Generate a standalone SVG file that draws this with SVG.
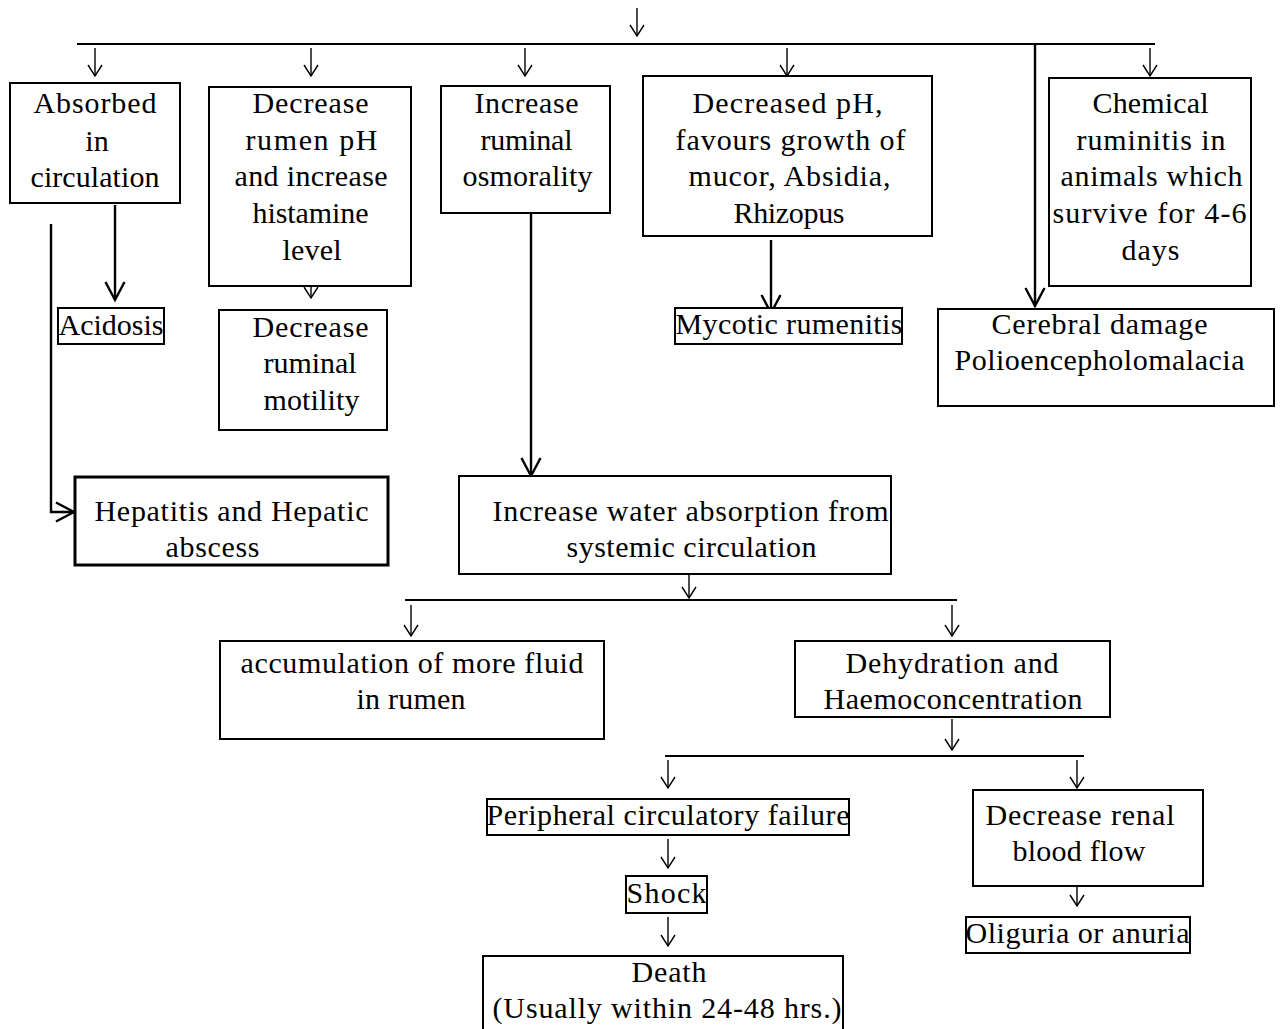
<svg xmlns="http://www.w3.org/2000/svg" width="1281" height="1029" viewBox="0 0 1281 1029">
  <defs>
    <style>
      .box { fill: #fff; stroke: #000; stroke-width: 2; }
      .thick { stroke-width: 3; }
      text { font-family: "Liberation Serif", "Times New Roman", serif; font-size: 30px; fill: #000; text-anchor: middle; }
      .ln { stroke: #000; stroke-width: 2; fill: none; }
      .sm { stroke: #000; stroke-width: 1.4; fill: none; marker-end: url(#tip-sm); }
      .lg { stroke: #000; stroke-width: 2.4; fill: none; marker-end: url(#tip-lg); }
    </style>
    <marker id="tip-sm" markerUnits="userSpaceOnUse" orient="auto" markerWidth="16" markerHeight="18" viewBox="-13 -9 16 18" refX="0" refY="0">
      <path d="M-11,-7 L0,0 L-11,7" fill="none" stroke="#000" stroke-width="1.4"/>
    </marker>
    <marker id="tip-lg" markerUnits="userSpaceOnUse" orient="auto" markerWidth="24" markerHeight="24" viewBox="-20 -12 24 24" refX="0" refY="0">
      <path d="M-18,-9.5 L0,0 L-18,9.5" fill="none" stroke="#000" stroke-width="2.4"/>
    </marker>
  </defs>
  <rect width="1281" height="1029" fill="#fff"/>

  <!-- connectors -->
  <g id="connectors">
    <line class="sm" x1="637" y1="8" x2="637" y2="36"/>
    <line class="ln" x1="77" y1="44" x2="1155" y2="44"/>
    <line class="sm" x1="95" y1="48" x2="95" y2="76"/>
    <line class="sm" x1="311" y1="48" x2="311" y2="76"/>
    <line class="sm" x1="525" y1="48" x2="525" y2="76"/>
    <line class="sm" x1="787" y1="48" x2="787" y2="76"/>
    <line class="sm" x1="1150" y1="48" x2="1150" y2="76"/>
    <line class="lg" x1="1035" y1="44" x2="1035" y2="306"/>

    <line class="lg" x1="115" y1="205" x2="115" y2="300"/>
    <polyline class="lg" points="51,224 51,512 74,512"/>
    <line class="sm" x1="311" y1="270" x2="311" y2="298"/>
    <line class="lg" x1="531" y1="210" x2="531" y2="476"/>
    <line class="lg" x1="771" y1="240" x2="771" y2="313"/>

    <line class="sm" x1="689" y1="570" x2="689" y2="598"/>
    <line class="ln" x1="405" y1="600" x2="957" y2="600"/>
    <line class="sm" x1="411" y1="605" x2="411" y2="636"/>
    <line class="sm" x1="952" y1="605" x2="952" y2="636"/>
    <line class="sm" x1="952" y1="719" x2="952" y2="750"/>
    <line class="ln" x1="665" y1="756" x2="1084" y2="756"/>
    <line class="sm" x1="668" y1="760" x2="668" y2="788"/>
    <line class="sm" x1="1077" y1="760" x2="1077" y2="788"/>
    <line class="sm" x1="668" y1="839" x2="668" y2="868"/>
    <line class="sm" x1="668" y1="917" x2="668" y2="946"/>
    <line class="sm" x1="1077" y1="877" x2="1077" y2="906"/>
  </g>

  <g id="n-absorbed">
    <rect class="box" x="10" y="83" width="170" height="120"/>
    <text x="95" y="113" textLength="123" lengthAdjust="spacing">Absorbed</text>
    <text x="97" y="151">in</text>
    <text x="95" y="187" textLength="129" lengthAdjust="spacing">circulation</text>
  </g>
  <g id="n-rumen-ph">
    <rect class="box" x="209" y="87" width="202" height="199"/>
    <text x="310.5" y="113" textLength="116" lengthAdjust="spacing">Decrease</text>
    <text x="311.5" y="150" textLength="132" lengthAdjust="spacing">rumen pH</text>
    <text x="311" y="186" textLength="153" lengthAdjust="spacing">and increase</text>
    <text x="310.5" y="223" textLength="116" lengthAdjust="spacing">histamine</text>
    <text x="312" y="260" textLength="59" lengthAdjust="spacing">level</text>
  </g>
  <g id="n-osmorality">
    <rect class="box" x="441" y="86" width="169" height="127"/>
    <text x="526.5" y="113" textLength="104" lengthAdjust="spacing">Increase</text>
    <text x="526.5" y="150" textLength="92" lengthAdjust="spacing">ruminal</text>
    <text x="527.5" y="186" textLength="130" lengthAdjust="spacing">osmorality</text>
  </g>
  <g id="n-fungi">
    <rect class="box" x="643" y="76" width="289" height="160"/>
    <text x="787.5" y="113" textLength="190" lengthAdjust="spacing">Decreased pH,</text>
    <text x="790.5" y="150" textLength="230" lengthAdjust="spacing">favours growth of</text>
    <text x="789.5" y="186" textLength="202" lengthAdjust="spacing">mucor, Absidia,</text>
    <text x="789" y="223" textLength="111" lengthAdjust="spacing">Rhizopus</text>
  </g>
  <g id="n-ruminitis">
    <rect class="box" x="1049" y="78" width="202" height="208"/>
    <text x="1150.5" y="113" textLength="116" lengthAdjust="spacing">Chemical</text>
    <text x="1151" y="150" textLength="149" lengthAdjust="spacing">ruminitis in</text>
    <text x="1151.5" y="186" textLength="182" lengthAdjust="spacing">animals which</text>
    <text x="1149.5" y="223" textLength="194" lengthAdjust="spacing">survive for 4-6</text>
    <text x="1150.5" y="260" textLength="58" lengthAdjust="spacing">days</text>
  </g>
  <g id="n-acidosis">
    <rect class="box" x="58" y="308" width="106" height="36"/>
    <text x="111" y="335" textLength="105" lengthAdjust="spacing">Acidosis</text>
  </g>
  <g id="n-motility">
    <rect class="box" x="219" y="310" width="168" height="120"/>
    <text x="310.5" y="337" textLength="116" lengthAdjust="spacing">Decrease</text>
    <text x="310" y="373" textLength="93" lengthAdjust="spacing">ruminal</text>
    <text x="311.5" y="410" textLength="96" lengthAdjust="spacing">motility</text>
  </g>
  <g id="n-mycotic">
    <rect class="box" x="675" y="308" width="227" height="36"/>
    <text x="789" y="334" textLength="227" lengthAdjust="spacing">Mycotic rumenitis</text>
  </g>
  <g id="n-cerebral">
    <rect class="box" x="938" y="309" width="336" height="97"/>
    <text x="1099.5" y="334" textLength="216" lengthAdjust="spacing">Cerebral damage</text>
    <text x="1099.5" y="370" textLength="290" lengthAdjust="spacing">Polioencepholomalacia</text>
  </g>
  <g id="n-hepatitis">
    <rect class="box thick" x="75" y="477" width="313" height="88"/>
    <text x="231.5" y="521" textLength="274" lengthAdjust="spacing">Hepatitis and Hepatic</text>
    <text x="212.5" y="557" textLength="94" lengthAdjust="spacing">abscess</text>
  </g>
  <g id="n-water">
    <rect class="box" x="459" y="476" width="432" height="98"/>
    <text x="690.5" y="521" textLength="396" lengthAdjust="spacing">Increase water absorption from</text>
    <text x="691.5" y="557" textLength="250" lengthAdjust="spacing">systemic circulation</text>
  </g>
  <g id="n-fluid">
    <rect class="box" x="220" y="641" width="384" height="98"/>
    <text x="412" y="673" textLength="343" lengthAdjust="spacing">accumulation of more fluid</text>
    <text x="411" y="709" textLength="109" lengthAdjust="spacing">in rumen</text>
  </g>
  <g id="n-dehydration">
    <rect class="box" x="795" y="641" width="315" height="76"/>
    <text x="952" y="673" textLength="213" lengthAdjust="spacing">Dehydration and</text>
    <text x="953" y="709" textLength="259" lengthAdjust="spacing">Haemoconcentration</text>
  </g>
  <g id="n-peripheral">
    <rect class="box" x="487" y="799" width="362" height="36"/>
    <text x="668" y="825" textLength="363" lengthAdjust="spacing">Peripheral circulatory failure</text>
  </g>
  <g id="n-renal">
    <rect class="box" x="973" y="790" width="230" height="96"/>
    <text x="1080" y="825" textLength="189" lengthAdjust="spacing">Decrease renal</text>
    <text x="1079" y="861" textLength="133" lengthAdjust="spacing">blood flow</text>
  </g>
  <g id="n-shock">
    <rect class="box" x="626" y="876" width="81" height="37"/>
    <text x="666.5" y="903" textLength="80" lengthAdjust="spacing">Shock</text>
  </g>
  <g id="n-oliguria">
    <rect class="box" x="966" y="917" width="224" height="36"/>
    <text x="1077.5" y="943" textLength="224" lengthAdjust="spacing">Oliguria or anuria</text>
  </g>
  <g id="n-death">
    <rect class="box" x="483" y="956" width="360" height="80"/>
    <text x="669" y="982" textLength="75" lengthAdjust="spacing">Death</text>
    <text x="667" y="1018" textLength="349" lengthAdjust="spacing">(Usually within 24-48 hrs.)</text>
  </g>
</svg>
